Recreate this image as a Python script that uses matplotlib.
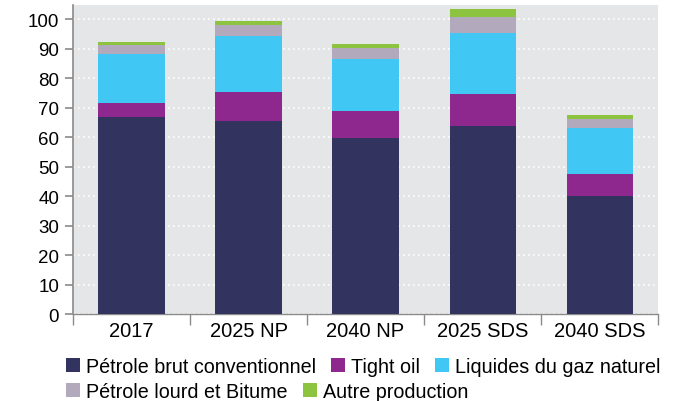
import numpy as np
import matplotlib
matplotlib.use("Agg")
import matplotlib.pyplot as plt
from matplotlib.patches import Patch

plt.rcParams['font.family'] = ['Liberation Sans', 'DejaVu Sans']

categories = ['2017', '2025 NP', '2040 NP', '2025 SDS', '2040 SDS']
conventionnel = [67.0, 65.4, 59.7, 63.7, 40.0]
tight_oil = [4.5, 9.9, 9.1, 10.9, 7.5]
liquides_gaz = [16.6, 18.9, 17.6, 20.7, 15.5]
lourd_bitume = [3.3, 3.8, 3.8, 5.4, 3.1]
autre = [0.8, 1.3, 1.3, 2.7, 1.4]

series = [
    ('Pétrole brut conventionnel', conventionnel, '#32345f'),
    ('Tight oil', tight_oil, '#8e278e'),
    ('Liquides du gaz naturel', liquides_gaz, '#40c7f4'),
    ('Pétrole lourd et Bitume', lourd_bitume, '#b2a9bd'),
    ('Autre production', autre, '#8cc43f'),
]

fig = plt.figure(figsize=(6.82, 4.02), dpi=100)
ax = fig.add_axes([0.107, 0.216, 0.858, 0.769])
ax.set_facecolor('#e5e6e8')

x = np.arange(len(categories))
bottom = np.zeros(len(categories))
for name, vals, col in series:
    ax.bar(x, vals, width=0.565, bottom=bottom, color=col, zorder=3)
    bottom += np.array(vals)

ax.set_xlim(-0.5, len(categories) - 0.5)
ax.set_ylim(0, 104.8)
ax.set_yticks(range(0, 101, 10))
ax.yaxis.grid(True, color='white', linestyle=(0, (1, 2)), linewidth=1.2, zorder=1)
ax.set_axisbelow(True)

for s in ['top', 'right']:
    ax.spines[s].set_visible(False)
ax.spines['left'].set_color('#8a8a8a')
ax.spines['left'].set_linewidth(1.2)
ax.spines['bottom'].set_color('#8a8a8a')
ax.spines['bottom'].set_linewidth(1.0)

ax.set_xticks(x)
ax.set_xticklabels(categories)
ax.set_xticks(np.arange(-0.5, len(categories), 1.0), minor=True)
ax.tick_params(axis='x', which='major', length=0, labelsize=14.5, pad=5)
ax.tick_params(axis='x', which='minor', length=8, color='#8a8a8a', width=1)
ax.tick_params(axis='y', length=6, color='#8a8a8a', width=1.2, labelsize=13.5, pad=4)

handles = [Patch(facecolor=c, label=n) for n, v, c in series]
kw = dict(frameon=False, fontsize=14.2, handlelength=0.72, handleheight=0.72,
          handletextpad=0.3, columnspacing=0.75, borderaxespad=0, borderpad=0)
leg1 = fig.legend(handles=handles[:3], ncol=3, loc='upper left',
                  bbox_to_anchor=(0.097, 0.11), **kw)
leg2 = fig.legend(handles=handles[3:], ncol=2, loc='upper left',
                  bbox_to_anchor=(0.097, 0.047), **kw)

fig.savefig('out.png', dpi=100)
